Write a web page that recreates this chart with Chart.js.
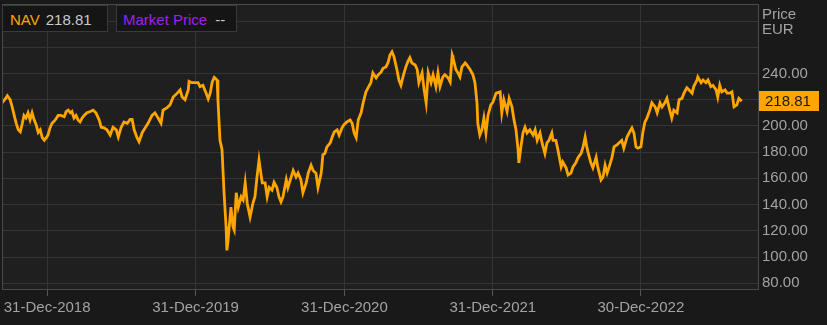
<!DOCTYPE html>
<html>
<head>
<meta charset="utf-8">
<script src="https://cdn.jsdelivr.net/npm/chart.js@4"></script>
<style>
  html, body { margin: 0; padding: 0; background: #19191a; }
  .wrap { position: relative; width: 827px; height: 325px; font-family: Arial, "Liberation Sans", sans-serif; }
  canvas { position: absolute; left: 0; top: 0; }
  .box { position: absolute; top: 5px; height: 27px; line-height: 27px; background: #151516; border: 1px solid #3a3a3a; box-sizing: border-box; font-size: 15px; color: #c9c9c9; white-space: nowrap; }
  .nav { color: #ffa500; margin-right: 6px; }
  .mkt { color: #a020f0; margin-right: 8px; }
  .head { position: absolute; left: 762px; top: 6px; font-size: 15px; line-height: 15px; color: #a3a3a3; }
</style>
</head>
<body>
<div class="wrap">
  <canvas id="myChart" width="827" height="325"></canvas>
  <div class="box" style="left:2px;width:106px;padding-left:7px;"><span class="nav">NAV</span>218.81</div>
  <div class="box" style="left:116px;width:121px;padding-left:6px;"><span class="mkt">Market Price</span>--</div>
  <div class="head">Price<br>EUR</div>
</div>
<script>
// days counted from 31-Dec-2018
const days = [
  -111, -103, -98, -91, -86, -81, -76, -71, -66, -61, -57, -52, -47, -42, -37, -32, -27, -22, -17, -12, -7, -2,
  2, 7, 12, 20, 27, 34, 42, 47, 52, 57, 61, 66, 71, 76, 81, 86, 91, 98, 106, 113, 120, 128, 133, 140, 147, 155,
  162, 170, 175, 182, 189, 197, 204, 209, 214, 221, 226, 234, 241, 248, 258, 265, 273, 280, 285, 295, 302, 310,
  320, 327, 332, 339, 347, 349, 356, 364, 371, 376, 383, 391, 396, 401, 406, 411, 418, 420, 425, 430, 435, 440,
  442, 445, 452, 457, 460, 465, 470, 477, 482, 487, 492, 499, 506, 511, 516, 521, 529, 536, 541, 546, 553, 558,
  565, 570, 575, 580, 588, 592, 600, 605, 612, 617, 624, 629, 637, 642, 649, 654, 661, 666, 674, 678, 683, 688,
  696, 701, 706, 713, 718, 725, 730, 737, 745, 750, 755, 760, 765, 772, 777, 784, 789, 796, 801, 809, 814, 821,
  826, 833, 838, 843, 848, 853, 860, 865, 870, 875, 882, 887, 892, 897, 905, 910, 914, 922, 927, 932, 937, 944,
  949, 956, 961, 966, 973, 978, 986, 991, 996, 998, 1005, 1010, 1015, 1020, 1028, 1032, 1040, 1047, 1052, 1057,
  1059, 1064, 1069, 1074, 1079, 1084, 1091, 1096, 1104, 1114, 1118, 1123, 1131, 1136, 1143, 1148, 1153, 1158,
  1160, 1165, 1170, 1175, 1180, 1187, 1195, 1200, 1205, 1212, 1217, 1224, 1229, 1234, 1241, 1244, 1251, 1256,
  1264, 1268, 1276, 1281, 1288, 1293, 1300, 1305, 1313, 1318, 1323, 1327, 1330, 1337, 1342, 1350, 1354, 1362,
  1367, 1372, 1377, 1382, 1389, 1394, 1401, 1406, 1413, 1418, 1426, 1431, 1438, 1443, 1448, 1453, 1460, 1465,
  1470, 1475, 1482, 1487, 1495, 1500, 1507, 1512, 1519, 1524, 1529, 1536, 1541, 1549, 1554, 1561, 1566, 1573,
  1578, 1586, 1590, 1598, 1600, 1608, 1613, 1620, 1625, 1632, 1637, 1645, 1649, 1654, 1659, 1667, 1672, 1679,
  1684, 1689, 1696, 1701, 1708
];
const nav = [
  217.6, 220.6, 223, 220, 214.5, 208, 202, 197, 195.5, 202, 208, 206, 210, 204.6, 210, 204.6, 201, 195, 197, 191, 189, 191,
  193, 198.5, 202, 204.6, 208, 208, 207, 211, 212, 210, 211, 206, 208, 204.6, 203, 206, 208, 210, 211, 212, 210, 204.6, 199, 198.5, 197, 193,
  199, 197, 191.6, 199, 203, 202, 205, 205, 197, 191, 188, 195, 198.5, 202, 208, 210, 206, 202, 212, 214, 216, 222,
  225, 227.5, 222, 220, 227.5, 234, 233, 233, 233, 230, 231, 225, 220.6, 225, 233.6, 237, 235, 220, 189, 182, 149, 123,
  105, 113, 138, 123, 120.6, 149, 138, 146, 143.5, 156.5, 141, 130.5, 141, 146, 161, 174, 156.5, 156.5, 146, 153, 151, 157,
  153, 146, 142, 146, 159, 153, 161, 166, 161, 164, 159, 149, 156.5, 164, 170, 166, 164, 153, 164, 178, 179, 184,
  187, 191.6, 195.4, 197, 193, 198.5, 201, 203, 204.6, 202, 194.6, 191, 204.6, 210, 217.6, 226, 229, 233, 240.5, 236.6, 239, 241,
  244, 245, 248, 254, 256.5, 252.7, 243, 235, 231, 237.4, 245, 249, 252, 248, 246.5, 243, 233, 240.5, 227.5, 217.6, 240.5, 233,
  239, 230, 240.5, 230, 237.4, 239, 236.6, 233.6, 254, 252, 243, 240.5, 237.4, 245, 248, 246.5, 243, 239, 233, 217.6,
  202, 193, 197, 206, 194.6, 208, 216, 218, 225, 226, 210, 220, 211, 221, 214.5, 204.6, 197, 181.7,
  171.8, 184, 194.6, 199, 194.6, 197, 193, 197, 189, 194.6, 187, 179, 187, 189, 194.6, 189, 189, 181.7,
  168.7, 172.5, 168, 162.6, 164, 168.7, 171.8, 175.6, 179, 184, 191.6, 184, 180, 171.8, 168, 176, 168.7, 158.8,
  161, 170, 164, 168.7, 176, 184, 185.5, 187, 189, 183, 191.6, 194.6, 198.5, 194.6, 184, 183, 184, 195.4,
  203, 206, 212, 217.6, 214.5, 210, 217.6, 214.5, 217.6, 221, 214.5, 206, 212, 210, 220, 221, 225, 229,
  227.5, 225, 230, 235, 237.4, 233, 235, 233, 235, 230, 231, 227.5, 222, 231, 226, 227.5, 225, 225,
  226, 214.5, 216, 221, 218.81
];
const tickDays = [0, 365, 731, 1096, 1460];
const tickLabels = ['31-Dec-2018', '31-Dec-2019', '31-Dec-2020', '31-Dec-2021', '30-Dec-2022'];
const priceTicks = [80, 100, 120, 140, 160, 180, 200, 220, 240, 260, 280];
const lastNav = 218.81;

const gridColor = '#353536';
const labelColor = '#a3a3a3';

// plot background, borders and the last value tag
const chartDeco = {
  id: 'chartDeco',
  beforeDraw(chart) {
    const { ctx, chartArea: a } = chart;
    ctx.save();
    ctx.fillStyle = '#1f1f20';
    ctx.fillRect(a.left, a.top, a.right - a.left, a.bottom - a.top);
    ctx.restore();
  },
  afterDraw(chart) {
    const { ctx, chartArea: a } = chart;
    ctx.save();
    ctx.strokeStyle = '#4a4a4b';
    ctx.lineWidth = 1;
    ctx.strokeRect(a.left + 0.5, a.top + 0.5, a.right - a.left, a.bottom - a.top);
    const y = chart.scales.y.getPixelForValue(lastNav);
    ctx.fillStyle = '#ffa500';
    ctx.fillRect(a.right + 1, Math.round(y) - 10, 60, 20);
    ctx.fillStyle = '#1a1a1a';
    ctx.font = '15px Arial, "Liberation Sans", sans-serif';
    ctx.textBaseline = 'middle';
    ctx.fillText(lastNav.toFixed(2), a.right + 7, Math.round(y) + 1);
    ctx.restore();
  }
};

new Chart(document.getElementById('myChart'), {
  type: 'line',
  data: {
    datasets: [{
      label: 'NAV',
      data: days.map((d, i) => ({ x: d, y: nav[i] })),
      borderColor: '#ffa500',
      borderWidth: 2.8,
      pointRadius: 0,
      tension: 0,
      fill: false
    }]
  },
  options: {
    responsive: false,
    animation: false,
    layout: { padding: { left: 2, top: 4, right: 0, bottom: 0 } },
    plugins: { legend: { display: false }, tooltip: { enabled: false } },
    scales: {
      x: {
        type: 'linear',
        min: -111,
        max: 1748,
        afterBuildTicks: (scale) => { scale.ticks = tickDays.map(v => ({ value: v })); },
        afterFit: (scale) => { scale.height = 36; scale.paddingLeft = 0; scale.paddingRight = 0; },
        ticks: {
          color: labelColor,
          font: { family: 'Arial, "Liberation Sans", sans-serif', size: 15 },
          padding: 3,
          maxRotation: 0,
          autoSkip: false,
          callback: (v) => tickLabels[tickDays.indexOf(v)]
        },
        grid: { color: gridColor, tickColor: '#555', tickLength: 7 },
        border: { display: false }
      },
      y: {
        position: 'right',
        min: 75.6,
        max: 293,
        afterBuildTicks: (scale) => { scale.ticks = priceTicks.map(v => ({ value: v })); },
        afterFit: (scale) => { scale.width = 69; scale.paddingTop = 0; scale.paddingBottom = 0; },
        ticks: {
          color: labelColor,
          font: { family: 'Arial, "Liberation Sans", sans-serif', size: 15 },
          padding: 4,
          callback: (v) => (v === 220 || v >= 260) ? '' : v.toFixed(2)
        },
        grid: { color: gridColor, drawTicks: false },
        border: { display: false }
      }
    }
  },
  plugins: [chartDeco]
});
</script>
</body>
</html>
